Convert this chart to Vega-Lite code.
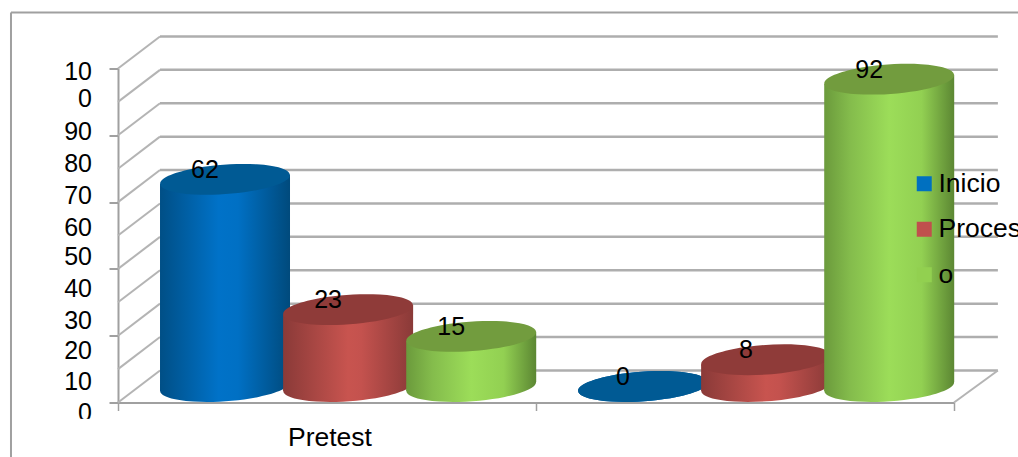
{
  "$schema": "https://vega.github.io/schema/vega-lite/v6.json",
  "width": 836,
  "height": 334,
  "autosize": {"type": "none"},
  "padding": {"left": 118, "top": 68.5, "right": 64, "bottom": 54.5},
  "background": "white",
  "config": {"view": {"stroke": null}, "font": "Liberation Sans"},
  "datasets": {
    "marcas": [
      {"nivel": 0}, {"nivel": 10}, {"nivel": 20}, {"nivel": 30}, {"nivel": 40}, {"nivel": 50},
      {"nivel": 60}, {"nivel": 70}, {"nivel": 80}, {"nivel": 90}, {"nivel": 100}
    ],
    "rotulos": [
      {"etiqueta": "10", "pos": 99.5}, {"etiqueta": "0", "pos": 91.4}, {"etiqueta": "90", "pos": 81.5},
      {"etiqueta": "80", "pos": 71.9}, {"etiqueta": "70", "pos": 62.3}, {"etiqueta": "60", "pos": 52.7},
      {"etiqueta": "50", "pos": 44.1}, {"etiqueta": "40", "pos": 34.5}, {"etiqueta": "30", "pos": 25},
      {"etiqueta": "20", "pos": 15.8}, {"etiqueta": "10", "pos": 6.7}, {"etiqueta": "0", "pos": -2.8}
    ],
    "unico": [{"marco": 1}]
  },
  "data": {
    "values": [
      {"grupo": "Pretest", "orden": 0, "serie": "Inicio", "valor": 62},
      {"grupo": "Pretest", "orden": 0, "serie": "Proces", "valor": 23},
      {"grupo": "Pretest", "orden": 0, "serie": "o", "valor": 15},
      {"grupo": "Postest", "orden": 1, "serie": "Inicio", "valor": 0},
      {"grupo": "Postest", "orden": 1, "serie": "Proces", "valor": 8},
      {"grupo": "Postest", "orden": 1, "serie": "o", "valor": 92}
    ]
  },
  "transform": [
    {"calculate": "datum.orden + 0.256 + 0.2945 * indexof(['Inicio','Proces','o'], datum.serie)", "as": "centro"},
    {"calculate": "datum.valor + 4.8", "as": "tapa"},
    {"calculate": "4.8", "as": "base"},
    {"calculate": "datum.centro - 0.048", "as": "xrotulo"},
    {"calculate": "datum.valor + 8", "as": "yrotulo"}
  ],
  "layer": [
    {
      "data": {"name": "marcas"},
      "transform": [
        {"calculate": "datum.nivel + 9.6", "as": "fondo"},
        {"calculate": "0", "as": "x0"},
        {"calculate": "0.1005", "as": "x1"}
      ],
      "mark": {"type": "rule", "stroke": "#b4b4b4", "strokeWidth": 2},
      "encoding": {
        "x": {
          "field": "x0", "type": "quantitative",
          "scale": {"domain": [0, 2], "nice": false, "zero": false},
          "axis": {"title": null, "values": [0, 1, 2], "labels": false, "grid": false, "domainColor": "#a0a0a0", "domainWidth": 2, "tickColor": "#a0a0a0", "tickWidth": 1.5, "tickSize": 8, "zindex": 0}
        },
        "x2": {"field": "x1"},
        "y": {
          "field": "nivel", "type": "quantitative",
          "scale": {"domain": [0, 100], "nice": false, "zero": false},
          "axis": {"title": null, "values": [0, 10, 20, 30, 40, 50, 60, 70, 80, 90, 100], "labels": false, "grid": false, "domainColor": "#a0a0a0", "domainWidth": 2, "tickColor": "#a0a0a0", "tickWidth": 2, "tickSize": 9, "zindex": 0}
        },
        "y2": {"field": "fondo"}
      }
    },
    {
      "data": {"name": "marcas"},
      "transform": [
        {"calculate": "datum.nivel + 9.6", "as": "fondo"},
        {"calculate": "0.1005", "as": "x0"},
        {"calculate": "2.105", "as": "x1"}
      ],
      "mark": {"type": "rule", "stroke": "#aeaeae", "strokeWidth": 2.5},
      "encoding": {
        "x": {"field": "x0", "type": "quantitative"},
        "x2": {"field": "x1"},
        "y": {"field": "fondo", "type": "quantitative"}
      }
    },
    {
      "data": {"name": "unico"},
      "mark": {"type": "rule", "stroke": "#b4b4b4", "strokeWidth": 2},
      "encoding": {
        "x": {"datum": 2, "type": "quantitative"},
        "x2": {"datum": 2.105},
        "y": {"datum": 0, "type": "quantitative"},
        "y2": {"datum": 9.6}
      }
    },
    {
      "data": {"name": "unico"},
      "mark": {"type": "rule", "stroke": "#a0a0a0", "strokeWidth": 2},
      "encoding": {
        "x": {"datum": -0.256, "type": "quantitative"},
        "y": {"datum": 116.8, "type": "quantitative"},
        "y2": {"datum": -17}
      }
    },
    {
      "data": {"name": "unico"},
      "mark": {"type": "rule", "stroke": "#a0a0a0", "strokeWidth": 2},
      "encoding": {
        "x": {"datum": -0.256, "type": "quantitative"},
        "x2": {"datum": 2.16},
        "y": {"datum": 116.8, "type": "quantitative"}
      }
    },

    {
      "transform": [{"filter": "datum.serie === 'Inicio'"}],
      "mark": {"type": "point", "filled": true, "opacity": 1, "size": 16900, "shape": "M-0.9975,0.07 A1,0.225 -4 1,1 0.9975,-0.07 A1,0.225 -4 1,1 -0.9975,0.07 Z",
        "fill": {"gradient": "linear", "x1": 0, "x2": 1, "y1": 0, "y2": 0, "stops": [{"offset": 0, "color": "#004f86"}, {"offset": 0.45, "color": "#0072c8"}, {"offset": 0.6, "color": "#0070c4"}, {"offset": 1, "color": "#004a7c"}]}},
      "encoding": {"x": {"field": "centro", "type": "quantitative"}, "y": {"field": "base", "type": "quantitative"}}
    },
    {
      "transform": [
        {"filter": "datum.serie === 'Inicio'"},
        {"calculate": "[-1, 1]", "as": "lado"},
        {"flatten": ["lado"]},
        {"calculate": "datum.centro + datum.lado * 0.1555", "as": "xlado"},
        {"calculate": "datum.tapa + datum.lado * 1.36", "as": "arriba"},
        {"calculate": "datum.base + datum.lado * 1.36", "as": "abajo"}
      ],
      "mark": {"type": "area", "opacity": 1,
        "fill": {"gradient": "linear", "x1": 0, "x2": 1, "y1": 0, "y2": 0, "stops": [{"offset": 0, "color": "#004f86"}, {"offset": 0.45, "color": "#0072c8"}, {"offset": 0.6, "color": "#0070c4"}, {"offset": 1, "color": "#004a7c"}]}},
      "encoding": {
        "x": {"field": "xlado", "type": "quantitative"},
        "y": {"field": "arriba", "type": "quantitative"},
        "y2": {"field": "abajo"},
        "detail": {"field": "grupo"}
      }
    },
    {
      "transform": [{"filter": "datum.serie === 'Inicio'"}],
      "mark": {"type": "point", "filled": true, "opacity": 1, "size": 16900, "fill": "#005a94", "shape": "M-0.9975,0.07 A1,0.225 -4 1,1 0.9975,-0.07 A1,0.225 -4 1,1 -0.9975,0.07 Z"},
      "encoding": {"x": {"field": "centro", "type": "quantitative"}, "y": {"field": "tapa", "type": "quantitative"}}
    },

    {
      "transform": [{"filter": "datum.serie === 'Proces'"}],
      "mark": {"type": "point", "filled": true, "opacity": 1, "size": 16900, "shape": "M-0.9975,0.07 A1,0.225 -4 1,1 0.9975,-0.07 A1,0.225 -4 1,1 -0.9975,0.07 Z",
        "fill": {"gradient": "linear", "x1": 0, "x2": 1, "y1": 0, "y2": 0, "stops": [{"offset": 0, "color": "#8a3a38"}, {"offset": 0.5, "color": "#c8544f"}, {"offset": 0.6, "color": "#c4524e"}, {"offset": 1, "color": "#8a3a38"}]}},
      "encoding": {"x": {"field": "centro", "type": "quantitative"}, "y": {"field": "base", "type": "quantitative"}}
    },
    {
      "transform": [
        {"filter": "datum.serie === 'Proces'"},
        {"calculate": "[-1, 1]", "as": "lado"},
        {"flatten": ["lado"]},
        {"calculate": "datum.centro + datum.lado * 0.1555", "as": "xlado"},
        {"calculate": "datum.tapa + datum.lado * 1.36", "as": "arriba"},
        {"calculate": "datum.base + datum.lado * 1.36", "as": "abajo"}
      ],
      "mark": {"type": "area", "opacity": 1,
        "fill": {"gradient": "linear", "x1": 0, "x2": 1, "y1": 0, "y2": 0, "stops": [{"offset": 0, "color": "#8a3a38"}, {"offset": 0.5, "color": "#c8544f"}, {"offset": 0.6, "color": "#c4524e"}, {"offset": 1, "color": "#8a3a38"}]}},
      "encoding": {
        "x": {"field": "xlado", "type": "quantitative"},
        "y": {"field": "arriba", "type": "quantitative"},
        "y2": {"field": "abajo"},
        "detail": {"field": "grupo"}
      }
    },
    {
      "transform": [{"filter": "datum.serie === 'Proces'"}],
      "mark": {"type": "point", "filled": true, "opacity": 1, "size": 16900, "fill": "#8f3b39", "shape": "M-0.9975,0.07 A1,0.225 -4 1,1 0.9975,-0.07 A1,0.225 -4 1,1 -0.9975,0.07 Z"},
      "encoding": {"x": {"field": "centro", "type": "quantitative"}, "y": {"field": "tapa", "type": "quantitative"}}
    },

    {
      "transform": [{"filter": "datum.serie === 'o'"}],
      "mark": {"type": "point", "filled": true, "opacity": 1, "size": 16900, "shape": "M-0.9975,0.07 A1,0.225 -4 1,1 0.9975,-0.07 A1,0.225 -4 1,1 -0.9975,0.07 Z",
        "fill": {"gradient": "linear", "x1": 0, "x2": 1, "y1": 0, "y2": 0, "stops": [{"offset": 0, "color": "#6b9a3c"}, {"offset": 0.2, "color": "#84bc4c"}, {"offset": 0.5, "color": "#9cdd59"}, {"offset": 0.75, "color": "#92d052"}, {"offset": 1, "color": "#5c8733"}]}},
      "encoding": {"x": {"field": "centro", "type": "quantitative"}, "y": {"field": "base", "type": "quantitative"}}
    },
    {
      "transform": [
        {"filter": "datum.serie === 'o'"},
        {"calculate": "[-1, 1]", "as": "lado"},
        {"flatten": ["lado"]},
        {"calculate": "datum.centro + datum.lado * 0.1555", "as": "xlado"},
        {"calculate": "datum.tapa + datum.lado * 1.36", "as": "arriba"},
        {"calculate": "datum.base + datum.lado * 1.36", "as": "abajo"}
      ],
      "mark": {"type": "area", "opacity": 1,
        "fill": {"gradient": "linear", "x1": 0, "x2": 1, "y1": 0, "y2": 0, "stops": [{"offset": 0, "color": "#6b9a3c"}, {"offset": 0.2, "color": "#84bc4c"}, {"offset": 0.5, "color": "#9cdd59"}, {"offset": 0.75, "color": "#92d052"}, {"offset": 1, "color": "#5c8733"}]}},
      "encoding": {
        "x": {"field": "xlado", "type": "quantitative"},
        "y": {"field": "arriba", "type": "quantitative"},
        "y2": {"field": "abajo"},
        "detail": {"field": "grupo"}
      }
    },
    {
      "transform": [{"filter": "datum.serie === 'o'"}],
      "mark": {"type": "point", "filled": true, "opacity": 1, "size": 16900, "fill": "#729c3e", "shape": "M-0.9975,0.07 A1,0.225 -4 1,1 0.9975,-0.07 A1,0.225 -4 1,1 -0.9975,0.07 Z"},
      "encoding": {"x": {"field": "centro", "type": "quantitative"}, "y": {"field": "tapa", "type": "quantitative"}}
    },

    {
      "mark": {"type": "text", "fontSize": 25, "font": "Liberation Sans", "fill": "black", "align": "center", "baseline": "middle", "dy": 1},
      "encoding": {
        "x": {"field": "xrotulo", "type": "quantitative"},
        "y": {"field": "yrotulo", "type": "quantitative"},
        "text": {"field": "valor", "type": "nominal"}
      }
    },
    {
      "data": {"name": "rotulos"},
      "mark": {"type": "text", "fontSize": 25, "font": "Liberation Sans", "fill": "black", "align": "right", "baseline": "middle", "dx": -26, "dy": 1.5},
      "encoding": {
        "x": {"datum": 0, "type": "quantitative"},
        "y": {"field": "pos", "type": "quantitative"},
        "text": {"field": "etiqueta", "type": "nominal"}
      }
    },
    {
      "data": {"name": "unico"},
      "mark": {"type": "rect", "fill": "white"},
      "encoding": {
        "x": {"datum": -0.12, "type": "quantitative"},
        "x2": {"datum": -0.05},
        "y": {"datum": -4.9, "type": "quantitative"},
        "y2": {"datum": -9}
      }
    },
    {
      "transform": [{"filter": "datum.orden === 0 && datum.serie === 'Inicio'"}],
      "mark": {"type": "text", "fontSize": 26.5, "font": "Liberation Sans", "fill": "black", "align": "center", "baseline": "middle", "dy": 1},
      "encoding": {
        "x": {"datum": 0.507, "type": "quantitative"},
        "y": {"datum": -10.3, "type": "quantitative"},
        "text": {"field": "grupo", "type": "nominal"}
      }
    },
    {
      "mark": {"type": "point", "filled": true, "size": 0, "opacity": 1},
      "encoding": {
        "x": {"field": "centro", "type": "quantitative"},
        "y": {"field": "tapa", "type": "quantitative"},
        "color": {
          "field": "serie", "type": "nominal",
          "scale": {"domain": ["Inicio", "Proces", "o"], "range": ["#0070c0", "#c0504d", "#92d050"]},
          "legend": {"title": null, "orient": "none", "legendX": 793, "legendY": 102, "padding": 0, "symbolType": "square", "symbolSize": 225, "symbolOpacity": 1, "symbolStrokeWidth": 0, "labelFontSize": 26.5, "labelFont": "Liberation Sans", "labelColor": "black", "labelLimit": 300, "labelOffset": 1, "rowPadding": 18.5, "zindex": 1}
        }
      }
    }
  ]
}
